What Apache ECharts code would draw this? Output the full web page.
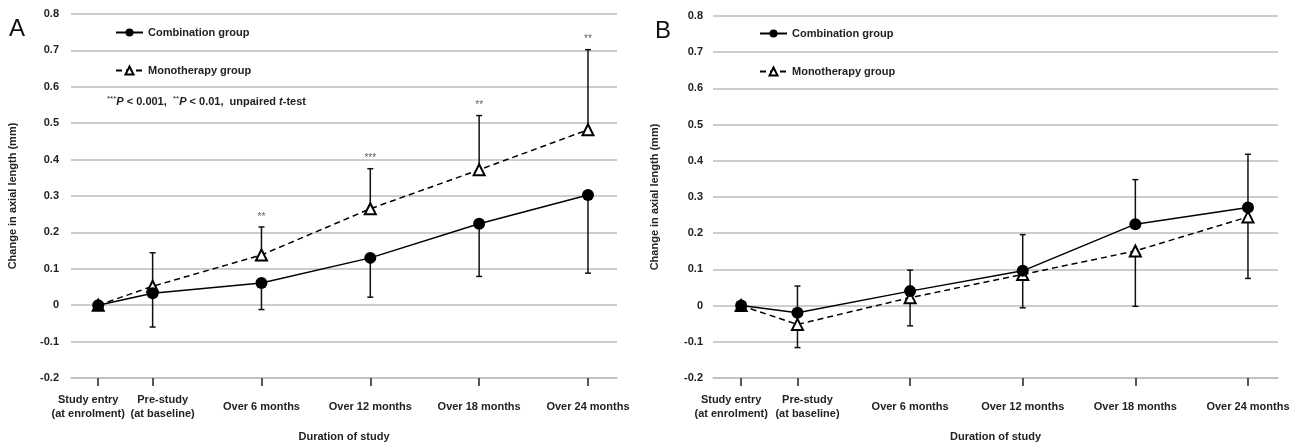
<!DOCTYPE html>
<html>
<head>
<meta charset="utf-8">
<script src="https://cdn.jsdelivr.net/npm/echarts@6/dist/echarts.min.js"></script>
<style>
  html, body { margin: 0; padding: 0; background: #fff; }
  #chart { width: 1306px; height: 447px; }
</style>
</head>
<body>
<div id="chart"></div>
<script>
// time points in months (study entry is 3 months before baseline)
const months = [-3, 0, 6, 12, 18, 24];
const timeLabels = ['Study entry\n(at enrolment)', 'Pre-study\n(at baseline)', 'Over 6 months', 'Over 12 months', 'Over 18 months', 'Over 24 months'];

// panel A
const comboA = [0, 0.033, 0.061, 0.130, 0.224, 0.303];
const comboErrA = [null, -0.060, -0.012, 0.022, 0.079, 0.088]; // lower bar ends
const monoA = [0, 0.052, 0.138, 0.265, 0.372, 0.482];
const monoErrA = [null, 0.144, 0.215, 0.375, 0.521, 0.702]; // upper bar ends
const starsA = ['', '', '**', '***', '**', '**'];

// panel B
const comboB = [0, -0.020, 0.040, 0.096, 0.225, 0.271];
const comboErrB = [null, 0.054, 0.098, 0.196, 0.348, 0.418]; // upper bar ends
const monoB = [0, -0.052, 0.022, 0.086, 0.151, 0.245];
const monoErrB = [null, -0.116, -0.056, -0.006, -0.002, 0.075]; // lower bar ends

const FONT = '"Liberation Sans", Arial, sans-serif';
const chart = echarts.init(document.getElementById('chart'));

function pairs(vals) {
  return months.map((m, i) => [m, vals[i]]);
}

function errData(vals, ends) {
  return months.map((m, i) => [m, vals[i], ends[i]]).filter(d => d[2] !== null);
}

function renderErr(params, api) {
  const x = api.value(0);
  const p0 = api.coord([x, api.value(1)]);
  const p1 = api.coord([x, api.value(2)]);
  const style = { stroke: '#111', lineWidth: 1.5 };
  return {
    type: 'group',
    children: [
      { type: 'line', shape: { x1: p0[0], y1: p0[1], x2: p1[0], y2: p1[1] }, style: style },
      { type: 'line', shape: { x1: p1[0] - 3, y1: p1[1], x2: p1[0] + 3, y2: p1[1] }, style: style }
    ]
  };
}

const labelFont = { fontFamily: FONT, fontWeight: 'bold', fontSize: 11, color: '#222', lineHeight: 14 };

// the two close labels are pushed apart a little, as in the original
function xLabel(v) {
  const i = months.indexOf(v);
  const lines = timeLabels[i].split('\n');
  const key = i === 0 ? 'l' : (i === 1 ? 'r' : 'c');
  return lines.map(s => '{' + key + '|' + s + '}').join('\n');
}

// ticks/labels are split over two axes, because the axis drops one of two close labels
function xAxisFor(gridIndex, ticks, main) {
  return {
    type: 'value',
    gridIndex: gridIndex,
    position: 'bottom',
    min: -4.5,
    max: 25.6,
    name: main ? 'Duration of study' : '',
    nameLocation: 'middle',
    nameGap: 53,
    nameTextStyle: { fontFamily: FONT, fontWeight: 'bold', fontSize: 11, color: '#222' },
    axisLine: { show: main, onZero: false, lineStyle: { color: '#bdbdbd', width: 1.5 } },
    axisTick: { show: true, customValues: ticks, length: 8, lineStyle: { color: '#222', width: 1.5 } },
    axisLabel: Object.assign({
      customValues: ticks,
      formatter: xLabel,
      margin: 29,
      verticalAlign: 'middle',
      rich: {
        l: Object.assign({ padding: [0, 20, 0, 0] }, labelFont),
        r: Object.assign({ padding: [0, 0, 0, 20] }, labelFont),
        c: Object.assign({}, labelFont)
      }
    }, labelFont),
    splitLine: { show: false }
  };
}

function yAxisFor(gridIndex, margin) {
  return {
    type: 'value',
    gridIndex: gridIndex,
    min: -0.2,
    max: 0.8,
    interval: 0.1,
    name: 'Change in axial length (mm)',
    nameLocation: 'middle',
    nameGap: 53,
    nameTextStyle: { fontFamily: FONT, fontWeight: 'bold', fontSize: 11, color: '#222' },
    axisLine: { show: false },
    axisTick: { show: false },
    axisLabel: {
      margin: margin,
      formatter: v => String(Math.round(v * 10) / 10),
      fontFamily: FONT,
      fontWeight: 'bold',
      fontSize: 11,
      color: '#222'
    },
    splitLine: { lineStyle: { color: '#bdbdbd', width: 1.5 } }
  };
}

function comboSeries(idx, vals) {
  return {
    name: 'Combination group',
    type: 'line',
    xAxisIndex: idx,
    yAxisIndex: idx,
    data: pairs(vals),
    symbol: 'circle',
    symbolSize: 12,
    itemStyle: { color: '#000' },
    lineStyle: { color: '#000', width: 1.5 },
    z: 4
  };
}

function monoSeries(idx, vals) {
  return {
    name: 'Monotherapy group',
    type: 'line',
    xAxisIndex: idx,
    yAxisIndex: idx,
    data: pairs(vals),
    symbol: 'triangle',
    symbolSize: 11,
    itemStyle: { color: '#fff', borderColor: '#000', borderWidth: 2 },
    lineStyle: { color: '#000', width: 1.5, type: [6, 4] },
    z: 3
  };
}

function errSeries(idx, vals, ends) {
  return {
    type: 'custom',
    xAxisIndex: idx,
    yAxisIndex: idx,
    data: errData(vals, ends),
    encode: { x: 0, y: [1, 2] },
    renderItem: renderErr,
    silent: true,
    z: 2
  };
}

function legendFor(left, top) {
  return {
    left: left,
    top: top,
    padding: 0,
    orient: 'vertical',
    itemGap: 27,
    itemWidth: 27,
    itemHeight: 10,
    data: ['Combination group', 'Monotherapy group'],
    textStyle: { fontFamily: FONT, fontWeight: 'bold', fontSize: 11, color: '#222' }
  };
}

const option = {
  animation: false,
  textStyle: { fontFamily: FONT },
  grid: [
    { left: 71, right: 689, top: 14, bottom: 69 },
    { left: 713, right: 28, top: 16, bottom: 69 }
  ],
  xAxis: [
    xAxisFor(0, months.slice(1), true),
    xAxisFor(1, months.slice(1), true),
    xAxisFor(0, months.slice(0, 1), false),
    xAxisFor(1, months.slice(0, 1), false)
  ],
  yAxis: [yAxisFor(0, 12), yAxisFor(1, 10)],
  legend: [legendFor(115, 27), legendFor(759, 28)],
  graphic: [
    { type: 'text', left: 9, top: 17, style: { text: 'A', fontFamily: FONT, fontSize: 24, fill: '#111' } },
    { type: 'text', left: 655, top: 19, style: { text: 'B', fontFamily: FONT, fontSize: 24, fill: '#111' } },
    {
      type: 'text',
      left: 107,
      top: 95,
      style: {
        text: '{s|***}{i|P}{b| < 0.001,  }{s|**}{i|P}{b| < 0.01,  unpaired }{i|t}{b|-test}',
        rich: {
          s: { fontFamily: FONT, fontSize: 8, fill: '#222', verticalAlign: 'top', lineHeight: 14 },
          i: { fontFamily: FONT, fontSize: 11, fontWeight: 'bold', fontStyle: 'italic', fill: '#222', lineHeight: 14 },
          b: { fontFamily: FONT, fontSize: 11, fontWeight: 'bold', fill: '#222', lineHeight: 14 }
        }
      }
    }
  ],
  series: [
    errSeries(0, comboA, comboErrA),
    errSeries(0, monoA, monoErrA),
    comboSeries(0, comboA),
    monoSeries(0, monoA),
    {
      type: 'scatter',
      xAxisIndex: 0,
      yAxisIndex: 0,
      data: pairs(monoErrA),
      symbolSize: 0,
      silent: true,
      label: {
        show: true,
        position: 'top',
        distance: 5,
        formatter: p => starsA[p.dataIndex],
        fontFamily: FONT,
        fontSize: 10,
        color: '#333'
      }
    },
    errSeries(1, comboB, comboErrB),
    errSeries(1, monoB, monoErrB),
    comboSeries(1, comboB),
    monoSeries(1, monoB)
  ]
};

chart.setOption(option);
</script>
</body>
</html>
